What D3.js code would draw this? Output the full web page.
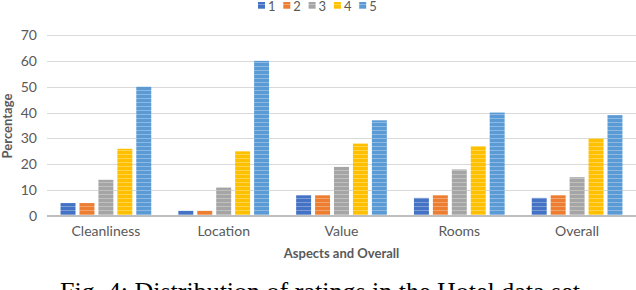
<!DOCTYPE html>
<meta charset="utf-8">
<style>
body { margin: 0; background: #fff; }
.grid line { stroke: #d9d9d9; }
.tick text { fill: #595959; }
</style>
<body>
<svg width="636" height="290"></svg>
<script src="https://d3js.org/d3.v7.min.js"></script>
<script>

var aspects = ["Cleanliness", "Location", "Value", "Rooms", "Overall"];
var ratings = ["1", "2", "3", "4", "5"];
var r1 = [5, 2, 8, 7, 7];
var r2 = [5, 2, 8, 8, 8];
var r3 = [14, 11, 19, 18, 15];
var r4 = [26, 25, 28, 27, 30];
var r5 = [50, 60, 37, 40, 39];
var yTicks = [0, 10, 20, 30, 40, 50, 60, 70];
var colors = ["#4472c4", "#ed7d31", "#a5a5a5", "#ffc000", "#5b9bd5"];

var series = [r1, r2, r3, r4, r5];

var svg = d3.select("svg");
var mLeft = 47, mRight = 636, mTop = 35, mBottom = 216;

var x = d3.scaleBand().domain(aspects).range([mLeft, mRight]).paddingInner(0.23).paddingOuter(0.115);
var xi = d3.scaleBand().domain(ratings).range([0, x.bandwidth()]).paddingInner(0.21);
var y = d3.scaleLinear().domain([0, 70]).range([mBottom, mTop]);

// striped fills
var defs = svg.append("defs");
colors.forEach(function(c, i) {
  var p = defs.append("pattern")
      .attr("id", "pat" + i)
      .attr("patternUnits", "userSpaceOnUse")
      .attr("width", 20).attr("height", 4);
  p.append("rect").attr("width", 20).attr("height", 4).attr("fill", c);
  p.append("rect").attr("y", 2).attr("width", 20).attr("height", 1)
      .attr("fill", "#fff").attr("opacity", 0.3);
});

// gridlines
svg.append("g").attr("class", "grid")
  .selectAll("line")
  .data(yTicks.slice(1))
  .enter().append("line")
    .attr("x1", mLeft).attr("x2", mRight)
    .attr("y1", function(d) { return Math.round(y(d)) + 0.5; })
    .attr("y2", function(d) { return Math.round(y(d)) + 0.5; });

// y axis labels
var yAxis = svg.append("g")
    .attr("transform", "translate(" + (mLeft - 10) + ",0)")
    .call(d3.axisLeft(y).tickValues(yTicks).tickSize(0).tickPadding(0));
yAxis.select(".domain").remove();
yAxis.selectAll("text")
    .style("font-family", "Lato, sans-serif")
    .style("font-size", "14px");

// bars
var groups = svg.append("g").selectAll("g")
  .data(aspects)
  .enter().append("g")
    .attr("transform", function(d) { return "translate(" + x(d) + ",0)"; });

groups.selectAll("rect")
  .data(function(d, i) { return series.map(function(s, k) { return {k: k, v: s[i]}; }); })
  .enter().append("rect")
    .attr("x", function(d) { return xi(ratings[d.k]); })
    .attr("width", xi.bandwidth())
    .attr("y", function(d) { return y(d.v); })
    .attr("height", function(d) { return mBottom - y(d.v); })
    .attr("fill", function(d) { return "url(#pat" + d.k + ")"; });

// baseline
svg.append("line")
    .attr("x1", mLeft).attr("x2", mRight)
    .attr("y1", mBottom).attr("y2", mBottom)
    .attr("stroke", "#bfbfbf").attr("stroke-width", 2);

// x axis labels
var xAxis = svg.append("g")
    .attr("transform", "translate(0," + mBottom + ")")
    .call(d3.axisBottom(x).tickSize(0).tickPadding(10));
xAxis.select(".domain").remove();
xAxis.selectAll("text")
    .style("font-family", "Lato, sans-serif")
    .style("font-size", "14px");

// axis titles
svg.append("text")
    .attr("x", (mLeft + mRight) / 2).attr("y", 258)
    .attr("text-anchor", "middle")
    .style("font-family", "Lato, sans-serif")
    .style("font-size", "13px").style("font-weight", "bold")
    .attr("fill", "#595959")
    .text("Aspects and Overall");

svg.append("text")
    .attr("transform", "translate(12,126) rotate(-90)")
    .attr("text-anchor", "middle")
    .style("font-family", "Lato, sans-serif")
    .style("font-size", "13px").style("font-weight", "bold")
    .attr("fill", "#595959")
    .text("Percentage");

// legend
var legend = svg.append("g").selectAll("g")
  .data(ratings)
  .enter().append("g")
    .attr("transform", function(d, i) { return "translate(" + (258 + i * 25.3) + ",2)"; });
legend.append("rect")
    .attr("width", 7).attr("height", 7)
    .attr("fill", function(d, i) { return "url(#pat" + i + ")"; });
legend.append("text")
    .attr("x", 10).attr("y", 9)
    .style("font-family", "Lato, sans-serif")
    .style("font-size", "13px")
    .attr("fill", "#595959")
    .text(function(d) { return d; });

// caption
svg.append("text")
    .attr("x", 60).attr("y", 300)
    .style("font-family", "'Liberation Serif', serif")
    .style("font-size", "26px")
    .attr("fill", "#000")
    .text("Fig. 4: Distribution of ratings in the Hotel data set");

</script>
</body>
